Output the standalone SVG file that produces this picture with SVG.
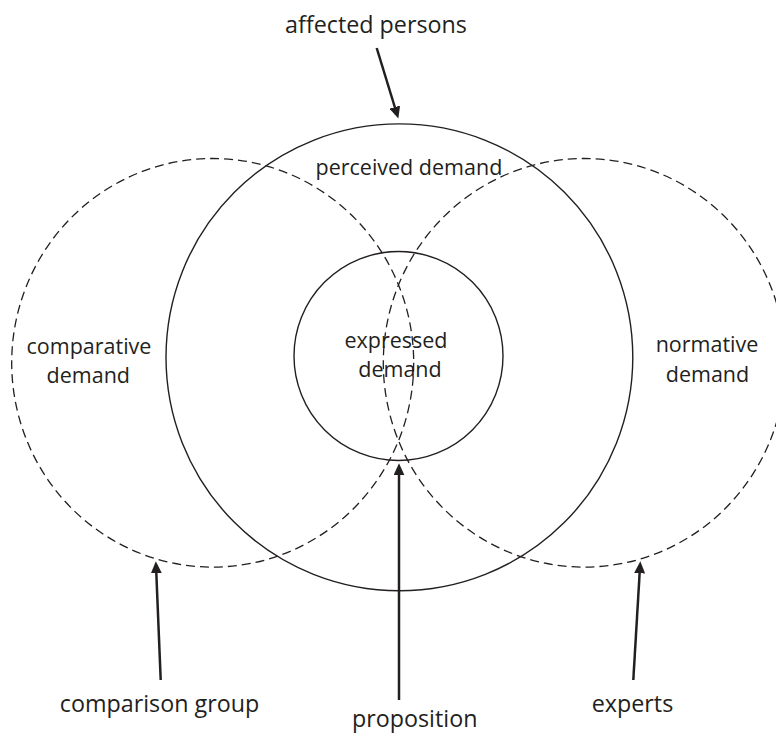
<svg xmlns="http://www.w3.org/2000/svg" width="776" height="733" viewBox="0 0 776 733">
  <style>
    .solid { fill: none; stroke: #231f20; stroke-width: 1.4; }
    .dash { fill: none; stroke: #231f20; stroke-width: 1.3; stroke-dasharray: 9 5; }
    .arrow { fill: none; stroke: #231f20; stroke-width: 2.5; marker-end: url(#ah); }
    text { font-family: "Open Sans", "Liberation Sans", sans-serif; fill: #231f20; text-anchor: middle; }
    .in { font-size: 21.5px; }
    .out { font-size: 23.3px; }
  </style>
  <defs>
    <marker id="ah" markerUnits="userSpaceOnUse" markerWidth="13" markerHeight="11" refX="3" refY="5.5" orient="auto">
      <path d="M0,0 L12,5.5 L0,11 z" fill="#231f20"/>
    </marker>
  </defs>
  <rect width="776" height="733" fill="#ffffff"/>

  <g id="comparative-demand">
    <ellipse class="dash" cx="212.7" cy="362.8" rx="201" ry="204.3"/>
    <text class="in" x="89" y="354">comparative</text>
    <text class="in" x="88.3" y="383.3">demand</text>
  </g>

  <g id="normative-demand">
    <ellipse class="dash" cx="584.3" cy="362.8" rx="201" ry="204.3"/>
    <text class="in" x="707" y="351.7">normative</text>
    <text class="in" x="707.5" y="381.7">demand</text>
  </g>

  <g id="perceived-demand">
    <circle class="solid" cx="399.4" cy="357.3" r="233.4"/>
    <text class="in" x="408.9" y="174.7">perceived demand</text>
  </g>

  <g id="expressed-demand">
    <circle class="solid" cx="398.5" cy="356" r="104.5"/>
    <text class="in" x="396" y="348.3">expressed</text>
    <text class="in" x="400" y="376.7">demand</text>
  </g>

  <g id="affected-persons">
    <text class="out" x="376" y="33">affected persons</text>
  </g>
  <g id="comparison-group">
    <text class="out" x="159.5" y="711.7">comparison group</text>
  </g>
  <g id="proposition">
    <text class="out" x="414.7" y="726.5">proposition</text>
  </g>
  <g id="experts">
    <text class="out" x="632.5" y="711.7">experts</text>
  </g>

  <g id="connectors">
    <line class="arrow" x1="376.7" y1="48" x2="395.7" y2="110"/>
    <line class="arrow" x1="160.7" y1="680" x2="156.2" y2="570.3"/>
    <line class="arrow" x1="399" y1="700" x2="399" y2="472.3"/>
    <line class="arrow" x1="633.3" y1="680" x2="639.8" y2="570.3"/>
  </g>
</svg>
